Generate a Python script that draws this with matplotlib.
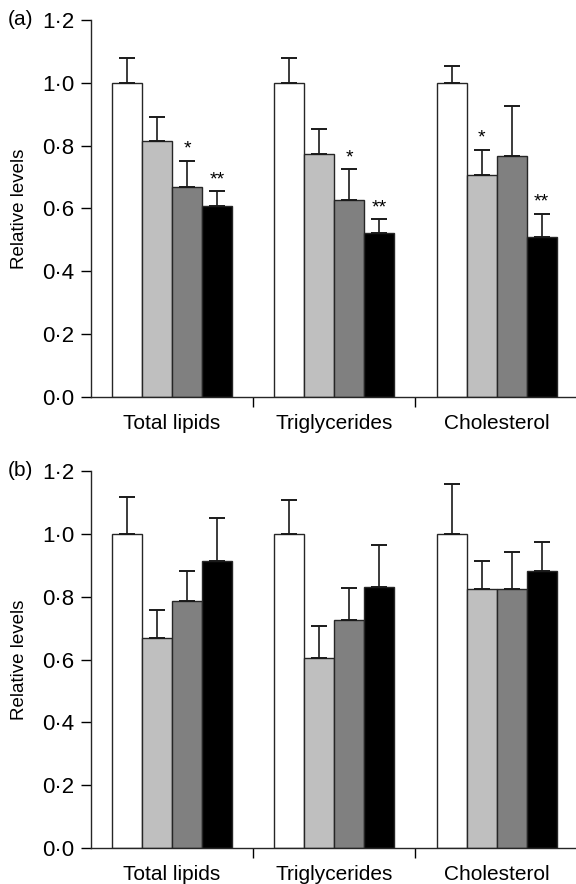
import numpy as np
import matplotlib.pyplot as plt

plt.rcParams['font.family'] = ['Liberation Sans', 'DejaVu Sans']

categories = ['Total lipids', 'Triglycerides', 'Cholesterol']
bar_colors = ['#ffffff', '#bfbfbf', '#808080', '#000000']

# panel (a): mean relative levels and upper SD, one list per group
a_means = [[1.00, 0.814, 0.668, 0.607],
           [1.00, 0.772, 0.628, 0.522],
           [1.00, 0.706, 0.766, 0.510]]
a_tops = [[1.080, 0.891, 0.752, 0.655],
          [1.080, 0.852, 0.725, 0.566],
          [1.054, 0.786, 0.925, 0.584]]
a_stars = [['', '', '*', '**'],
           ['', '', '*', '**'],
           ['', '*', '', '**']]

# panel (b)
b_means = [[1.00, 0.667, 0.787, 0.913],
           [1.00, 0.605, 0.727, 0.830],
           [1.00, 0.823, 0.823, 0.883]]
b_tops = [[1.118, 0.757, 0.883, 1.051],
          [1.108, 0.707, 0.829, 0.966],
          [1.159, 0.915, 0.943, 0.973]]
b_stars = [['', '', '', ''], ['', '', '', ''], ['', '', '', '']]

yticks = [0.0, 0.2, 0.4, 0.6, 0.8, 1.0, 1.2]
ytick_labels = ['0·0', '0·2', '0·4', '0·6', '0·8', '1·0', '1·2']

fig = plt.figure(figsize=(5.76, 8.84), dpi=100)
ax_a = fig.add_axes([0.158, 0.5509, 0.842, 0.4265])
ax_b = fig.add_axes([0.158, 0.0407, 0.842, 0.4265])

width = 0.185
offsets = (np.arange(4) - 1.5) * width
x = np.arange(len(categories))


def draw_panel(ax, means, tops, stars, letter):
    means = np.array(means)
    tops = np.array(tops)
    for j in range(4):
        xs = x + offsets[j]
        h = means[:, j]
        err = tops[:, j] - h
        ax.bar(xs, h, width, color=bar_colors[j], edgecolor='#262626',
               linewidth=1.0, zorder=2)
        ax.errorbar(xs, h, yerr=[np.zeros_like(err), err], fmt='none',
                    ecolor='#1a1a1a', elinewidth=1.2, capsize=5.5,
                    capthick=1.4, zorder=3)
        for k in range(len(categories)):
            if stars[k][j]:
                ax.text(xs[k], tops[k, j] + 0.01, stars[k][j],
                        ha='center', va='bottom', fontsize=14)

    ax.set_xlim(-0.5, 2.49)
    ax.set_ylim(0, 1.2)
    ax.set_yticks(yticks)
    ax.set_yticklabels(ytick_labels)
    ax.set_xticks([0.5, 1.5], minor=False)
    ax.set_xticklabels([])
    ax.set_xticks(x, minor=True)
    ax.set_xticklabels(categories, minor=True)
    ax.tick_params(axis='x', which='minor', length=0, pad=12, labelsize=15)
    ax.tick_params(axis='x', which='major', length=7, width=1.0,
                   direction='out')
    ax.tick_params(axis='y', length=7, width=1.0, direction='out',
                   pad=5, labelsize=16)
    for s in ['top', 'right']:
        ax.spines[s].set_visible(False)
    for s in ['left', 'bottom']:
        ax.spines[s].set_linewidth(1.0)
        ax.spines[s].set_color('#262626')
    ax.set_ylabel('Relative levels', fontsize=13.5, labelpad=10)
    ax.text(8 / 576, ax.get_position().y1, letter, transform=fig.transFigure,
            ha='left', va='center', fontsize=15)


draw_panel(ax_a, a_means, a_tops, a_stars, '(a)')
draw_panel(ax_b, b_means, b_tops, b_stars, '(b)')

fig.savefig('out.png', dpi=100)
